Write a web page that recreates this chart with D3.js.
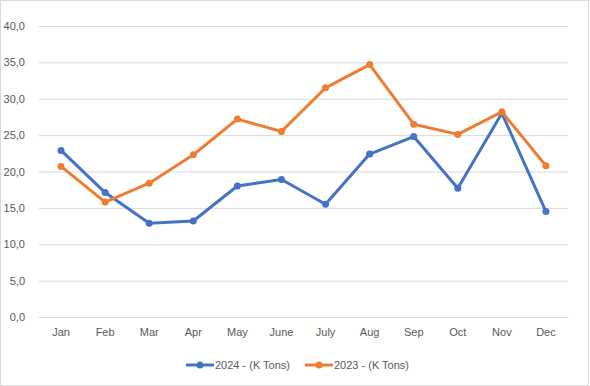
<!DOCTYPE html>
<html><head><meta charset="utf-8">
<script src="https://cdn.jsdelivr.net/npm/d3@7"></script>
<style>body{margin:0;background:#fff}svg{display:block}text{font-family:"Liberation Sans",Arial,sans-serif}</style>
</head><body><svg id="c" width="590" height="386"></svg>
<script>
const months = ["Jan","Feb","Mar","Apr","May","June","July","Aug","Sep","Oct","Nov","Dec"];
const s2024 = [22.9,17.1,12.9,13.2,18.0,18.9,15.5,22.4,24.8,17.7,28.0,14.5];
const s2023 = [20.7,15.8,18.4,22.3,27.2,25.5,31.5,34.7,26.5,25.1,28.2,20.8];
const yTicks = [0,5,10,15,20,25,30,35,40];
const seriesNames = ["2024 - (K Tons)","2023 - (K Tons)"];
const colors = ["#4472C4","#ED7D31"];

const svg = d3.select("#c");
svg.append("rect").attr("x",0.5).attr("y",0.5).attr("width",588).attr("height",385)
  .attr("fill","#fff").attr("stroke","#d9d9d9");

const x = d3.scaleBand().domain(months).range([39,568]);
const y = d3.scaleLinear().domain([0,40]).range([317,26]);

const fmt = d => d.toFixed(1).replace(".",",");
const ya = svg.append("g").attr("transform","translate(39,0)")
  .call(d3.axisLeft(y).tickValues(yTicks).tickSize(-529).tickFormat(fmt));
ya.select(".domain").remove();
ya.selectAll("line").attr("stroke","#d9d9d9");
ya.selectAll("text").attr("x",-14).attr("fill","#595959").style("font-size","11px");

const xa = svg.append("g").attr("transform","translate(0,317)")
  .call(d3.axisBottom(x).tickSize(0));
xa.select(".domain").attr("stroke","#d9d9d9");
xa.selectAll("text").attr("dy","0").attr("y",19).attr("fill","#595959").style("font-size","11px");

const cx = m => x(m) + x.bandwidth()/2;
[s2024, s2023].forEach((s,i) => {
  const line = d3.line().x((d,j)=>cx(months[j])).y(d=>y(d));
  svg.append("path").datum(s).attr("d",line).attr("fill","none")
    .attr("stroke",colors[i]).attr("stroke-width",3).attr("stroke-linejoin","round");
  svg.append("g").selectAll("circle").data(s).join("circle")
    .attr("cx",(d,j)=>cx(months[j])).attr("cy",d=>y(d)).attr("r",3.5).attr("fill",colors[i]);
});

const legX = [186, 305];
seriesNames.forEach((n,i) => {
  const g = svg.append("g").attr("transform",`translate(${legX[i]},365)`);
  g.append("line").attr("x1",0).attr("x2",28).attr("stroke",colors[i]).attr("stroke-width",3);
  g.append("circle").attr("cx",14).attr("r",3.5).attr("fill",colors[i]);
  g.append("text").attr("x",29).attr("dy","0.35em").attr("fill","#595959").style("font-size","11px").text(n);
});
</script></body></html>
